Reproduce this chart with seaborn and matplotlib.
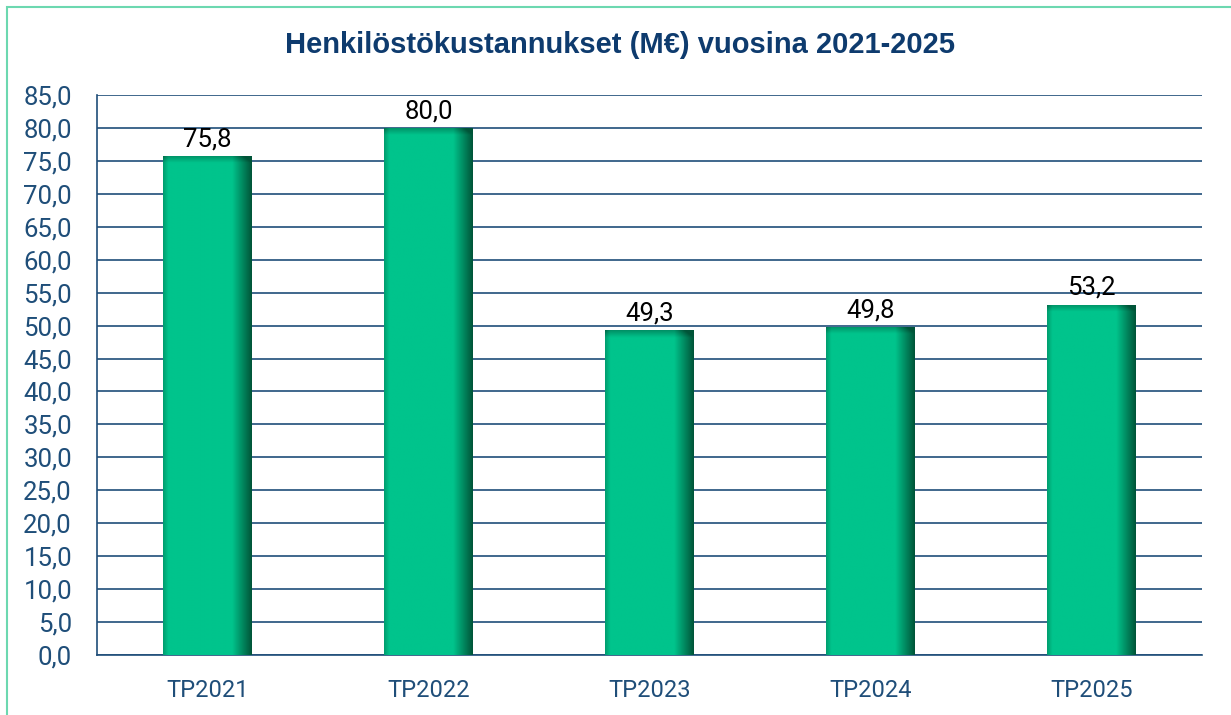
import numpy as np
import pandas as pd
import matplotlib
matplotlib.use("Agg")
import matplotlib.pyplot as plt
import seaborn as sns
from matplotlib.patches import Rectangle
from matplotlib.colors import to_rgb

categories = ["TP2021", "TP2022", "TP2023", "TP2024", "TP2025"]
values = [75.8, 80.0, 49.3, 49.8, 53.2]
value_labels = ["75,8", "80,0", "49,3", "49,8", "53,2"]
yticks = [0, 5, 10, 15, 20, 25, 30, 35, 40, 45, 50, 55, 60, 65, 70, 75, 80, 85]
ytick_labels = ["0,0", "5,0", "10,0", "15,0", "20,0", "25,0", "30,0", "35,0", "40,0",
                "45,0", "50,0", "55,0", "60,0", "65,0", "70,0", "75,0", "80,0", "85,0"]
title = "Henkilöstökustannukset (M€) vuosina 2021-2025"

sns.set_theme(style="white")
plt.rcParams['font.family'] = ['Roboto', 'DejaVu Sans']

navy = "#1F4E79"
green = "#00C48C"

fig = plt.figure(figsize=(12.31, 7.15), dpi=100)
ax = fig.add_axes([97/1231, 1-655/715, (1202-97)/1231, (655-95)/715])

df = pd.DataFrame({"cat": categories, "val": values})
sns.barplot(data=df, x="cat", y="val", color=green, width=0.4, ax=ax,
            saturation=1, edgecolor="none", zorder=3)

ax.set_ylim(0, 85)
ax.set_xlim(-0.5, 4.5)
ax.set_yticks(yticks)
ax.set_yticklabels(ytick_labels)
ax.set_xlabel("")
ax.set_ylabel("")
ax.yaxis.grid(True, color=navy, linewidth=1.2, zorder=0)
ax.set_axisbelow(True)
for s in ["top", "right"]:
    ax.spines[s].set_visible(False)
for s in ["left", "bottom"]:
    ax.spines[s].set_color(navy)
    ax.spines[s].set_linewidth(1.2)
ax.tick_params(axis="y", labelsize=18.5, colors=navy, length=0, pad=18)
ax.tick_params(axis="x", labelsize=17, colors=navy, length=0, pad=17)

# gradient shading on bars
base = np.array(to_rgb(green))
dark = np.array([0.0, 0.33, 0.22])
nx = 200
xs = np.linspace(0, 1, nx)
hf = np.where(xs > 0.78, np.clip((xs - 0.78) / 0.22, 0, 1), 0.0)
lf = np.where(xs < 0.06, (0.06 - xs) / 0.06 * 0.35, 0.0)
for p, v in zip(ax.patches, values):
    x0, w = p.get_x(), p.get_width()
    ny = 300
    ys = np.linspace(0, 1, ny)  # 0 bottom, 1 top
    top_px = 7.0 / (560 / 85) / v
    vf = np.where(ys > 1 - top_px, (ys - (1 - top_px)) / top_px * 0.45, 0.0)
    t = np.clip(hf[None, :] + lf[None, :] + vf[:, None], 0, 1)
    img = base[None, None, :] * (1 - t[..., None]) + dark[None, None, :] * t[..., None]
    im = ax.imshow(img, extent=[x0, x0 + w, 0, v], origin="lower", aspect="auto",
                   zorder=3.5, interpolation="bilinear")
    im.set_clip_path(p)

ax.set_xlim(-0.5, 4.5)
ax.set_ylim(0, 85)

for i, (v, lab) in enumerate(zip(values, value_labels)):
    ax.text(i, v + 0.7, lab, ha="center", va="bottom", fontsize=18.5, color="black", zorder=5)

fig.text(620/1231, 1-45/715, title, ha="center", va="center", fontsize=21,
         fontweight="bold", color="#0E3B6E", family=["Liberation Sans", "DejaVu Sans"])

# figure border
fig.patches.append(Rectangle((7/1231, -0.1), 1.2, 1-7/715+0.1, transform=fig.transFigure,
                             fill=False, edgecolor="#6CD8B0", linewidth=1.5))

fig.savefig("out.png", dpi=100)
